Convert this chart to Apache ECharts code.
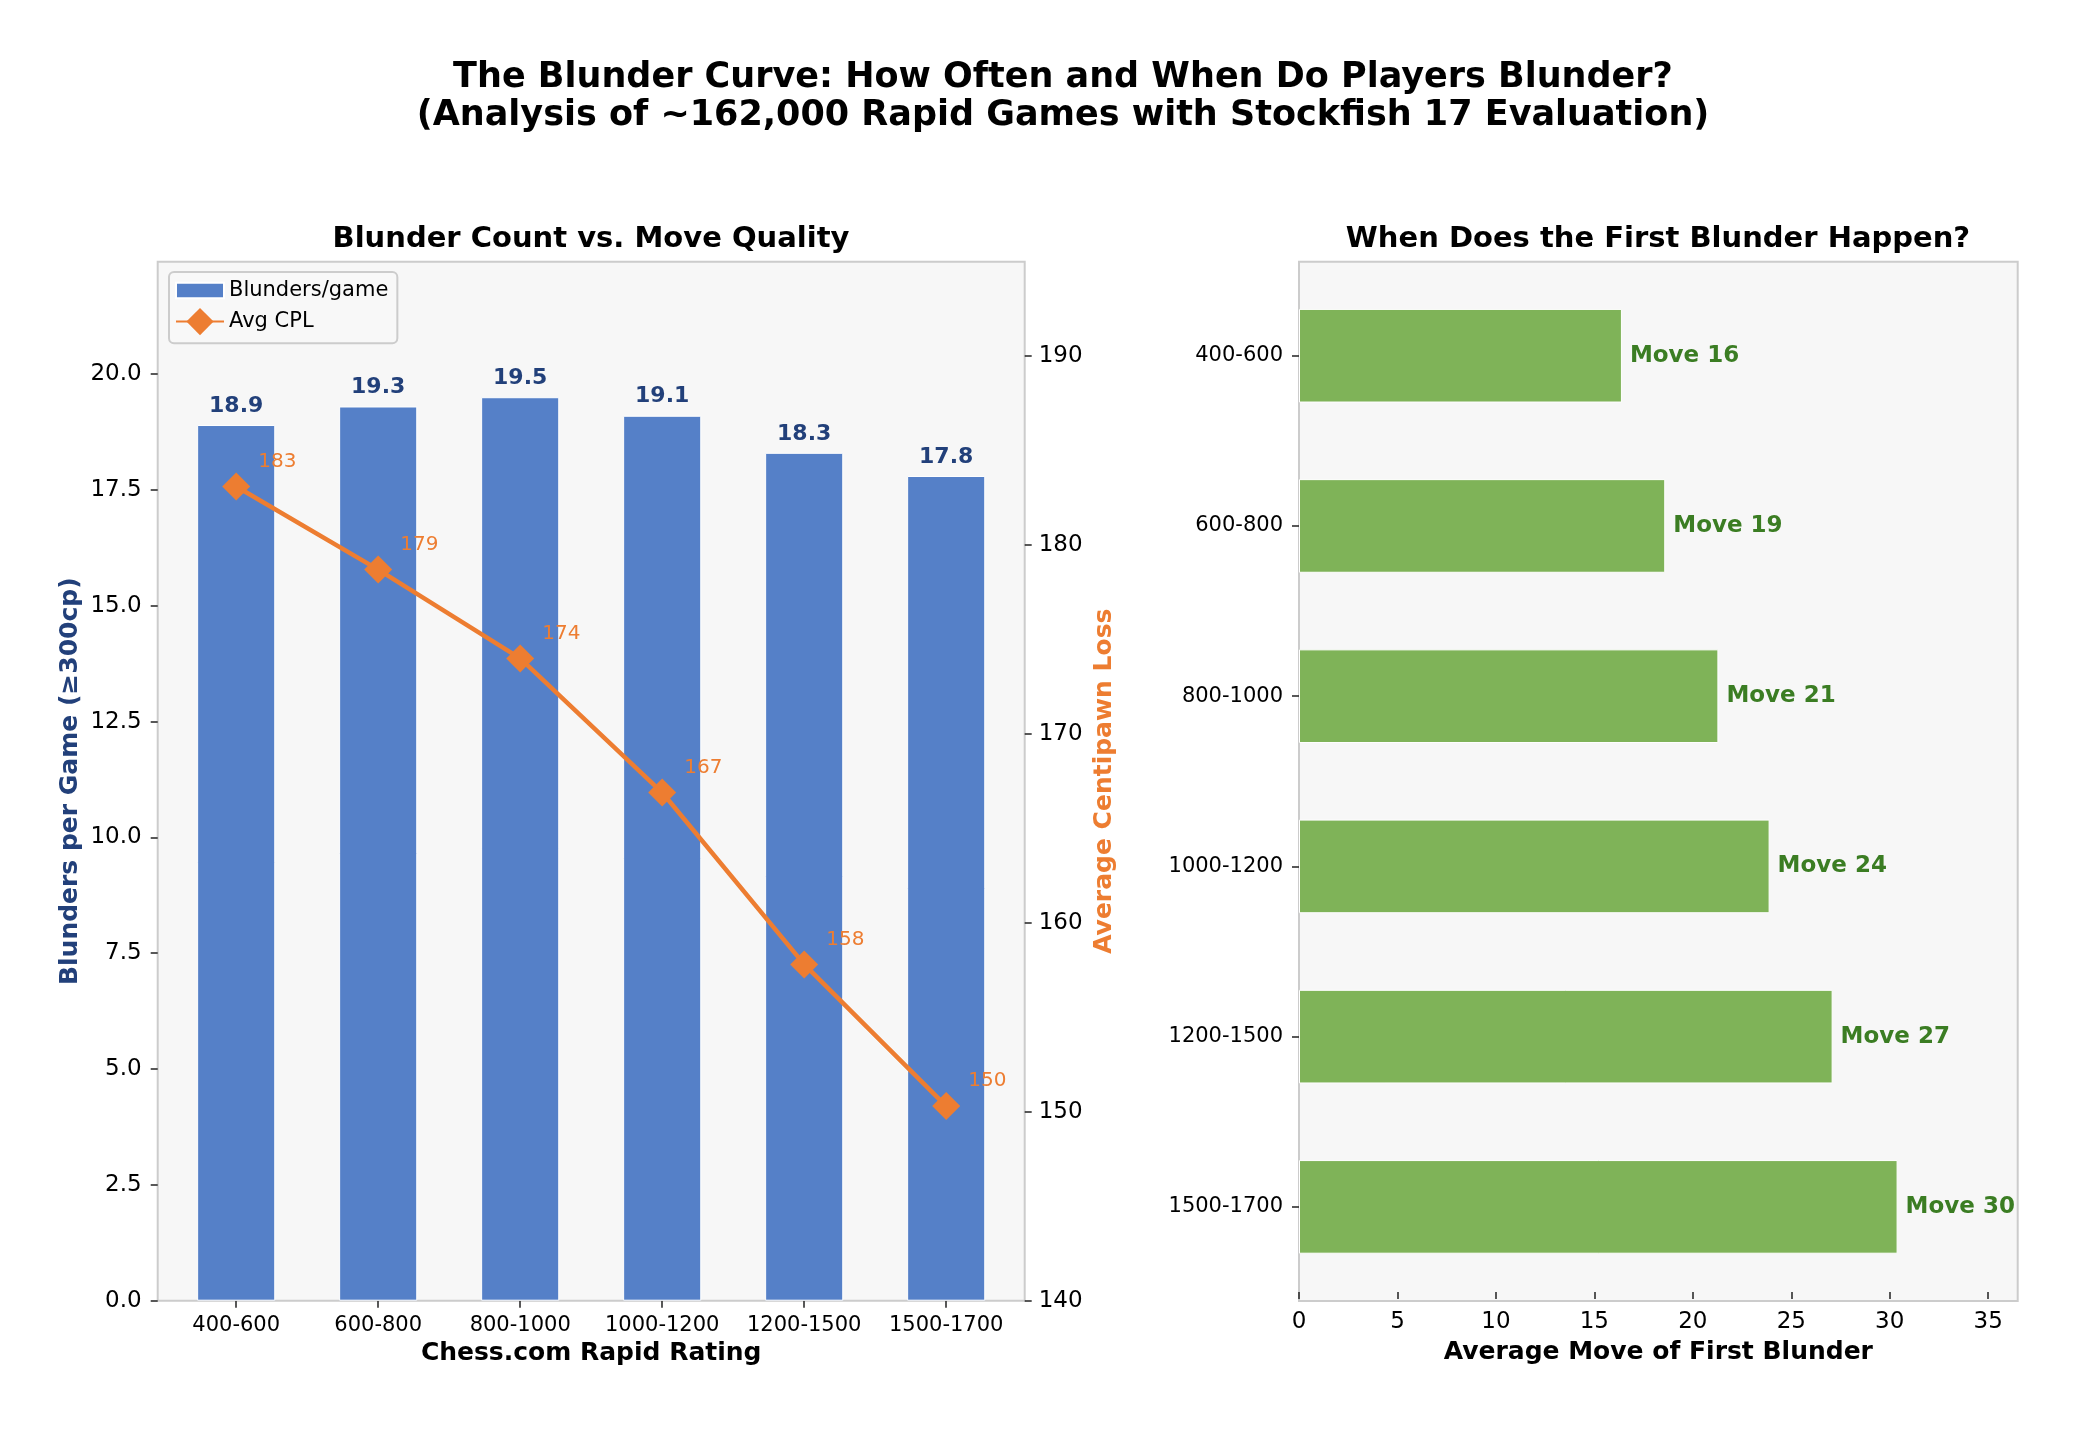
<!DOCTYPE html>
<html>
<head>
<meta charset="utf-8">
<script src="https://cdn.jsdelivr.net/npm/echarts@6/dist/echarts.min.js"></script>
<style>
  html, body { margin: 0; padding: 0; background: #fff; }
  #main { width: 2078px; height: 1431px; }
</style>
</head>
<body>
<div id="main"></div>
<script>
// data
var ratings = ['400-600', '600-800', '800-1000', '1000-1200', '1200-1500', '1500-1700'];
var blundersPerGame = [18.9, 19.3, 19.5, 19.1, 18.3, 17.8];
var avgCpl = [183.1, 178.7, 174.0, 166.9, 157.8, 150.3];
var firstBlunderMove = [16.4, 18.6, 21.3, 23.9, 27.1, 30.4];
var leftTicks = [0, 2.5, 5, 7.5, 10, 12.5, 15, 17.5, 20];
var cplTicks = [140, 150, 160, 170, 180, 190];
var moveTicks = [0, 5, 10, 15, 20, 25, 30, 35];

var FONT = 'DejaVu Sans';
var NAVY = '#22407a';
var ORANGE = '#ED7D31';
var GREEN_TXT = '#3b7d23';

var chart = echarts.init(document.getElementById('main'));

function tickStyle() {
    return { show: true, interval: 0, length: 7, lineStyle: { color: '#222', width: 1.5 } };
}

var option = {
    backgroundColor: '#fff',
    textStyle: { fontFamily: FONT },
    animation: false,
    title: [
        {
            text: 'The Blunder Curve: How Often and When Do Players Blunder?\n(Analysis of ~162,000 Rapid Games with Stockfish 17 Evaluation)',
            left: 1063, top: 59, textAlign: 'center', padding: 0,
            textStyle: { fontSize: 35, fontWeight: 'bold', color: '#000', lineHeight: 38, fontFamily: FONT }
        },
        {
            text: 'Blunder Count vs. Move Quality',
            left: 591, top: 225, textAlign: 'center', padding: 0,
            textStyle: { fontSize: 29, fontWeight: 'bold', color: '#000', fontFamily: FONT }
        },
        {
            text: 'When Does the First Blunder Happen?',
            left: 1658, top: 225, textAlign: 'center', padding: 0,
            textStyle: { fontSize: 29, fontWeight: 'bold', color: '#000', fontFamily: FONT }
        }
    ],
    legend: {
        data: [
            { name: 'Blunders/game', icon: 'path://M0,0H40V13H0Z' },
            { name: 'Avg CPL' }
        ],
        orient: 'vertical',
        left: 169, top: 272,
        itemWidth: 48, itemHeight: 34, itemGap: 7,
        padding: [8, 9, 8, 6],
        backgroundColor: 'rgba(247,247,247,0.9)',
        borderColor: '#cccccc', borderWidth: 2, borderRadius: 5,
        textStyle: { fontSize: 21, color: '#000', fontFamily: FONT }
    },
    grid: [
        // plot backgrounds (matplotlib-style frame)
        { left: 157.7, top: 261.7, width: 867, height: 1039, show: true,
          backgroundColor: '#f7f7f7', borderColor: '#cccccc', borderWidth: 2 },
        { left: 165.2, top: 261.7, width: 852, height: 1039 },
        { left: 1299, top: 261.7, width: 718.7, height: 1039.3, show: true,
          backgroundColor: '#f7f7f7', borderColor: '#cccccc', borderWidth: 2 },
        { left: 1299, top: 270.6, width: 718.7, height: 1021.4 }
    ],
    xAxis: [
        { gridIndex: 0, type: 'value', show: false, min: 0, max: 1 },
        {
            gridIndex: 1, type: 'category', data: ratings,
            axisLine: { show: false },
            axisTick: Object.assign(tickStyle(), { alignWithLabel: true }),
            axisLabel: { interval: 0, fontSize: 21, color: '#000', margin: 14, fontFamily: FONT },
            name: 'Chess.com Rapid Rating', nameLocation: 'middle', nameGap: 39,
            nameTextStyle: { fontSize: 25, fontWeight: 'bold', color: '#000', fontFamily: FONT }
        },
        { gridIndex: 2, type: 'value', show: false, min: 0, max: 1 },
        {
            gridIndex: 3, type: 'value', min: 0, max: 36.5,
            axisLine: { show: false },
            axisTick: Object.assign(tickStyle(), { customValues: moveTicks }),
            axisLabel: { fontSize: 23, color: '#000', margin: 19, customValues: moveTicks, fontFamily: FONT },
            splitLine: { show: false },
            name: 'Average Move of First Blunder', nameLocation: 'middle', nameGap: 48,
            nameTextStyle: { fontSize: 25, fontWeight: 'bold', color: '#000', fontFamily: FONT }
        }
    ],
    yAxis: [
        { gridIndex: 0, type: 'value', show: false, min: 0, max: 1 },
        {
            gridIndex: 1, type: 'value', min: 0, max: 22.425, offset: 7.5,
            axisLine: { show: false },
            axisTick: Object.assign(tickStyle(), { customValues: leftTicks }),
            axisLabel: {
                fontSize: 23, color: '#000', margin: 16, customValues: leftTicks, fontFamily: FONT,
                formatter: function (v) { return v.toFixed(1); }
            },
            splitLine: { show: false },
            name: 'Blunders per Game (≥300cp)', nameLocation: 'middle', nameGap: 75,
            nameTextStyle: { fontSize: 25, fontWeight: 'bold', color: NAVY, fontFamily: FONT }
        },
        {
            gridIndex: 1, type: 'value', position: 'right', min: 140, max: 195, offset: 7.5,
            axisLine: { show: false },
            axisTick: Object.assign(tickStyle(), { customValues: cplTicks }),
            axisLabel: { fontSize: 23, color: '#000', margin: 14, customValues: cplTicks, fontFamily: FONT },
            splitLine: { show: false },
            name: 'Average Centipawn Loss', nameLocation: 'middle', nameGap: 67,
            nameTextStyle: { fontSize: 25, fontWeight: 'bold', color: ORANGE, fontFamily: FONT }
        },
        { gridIndex: 2, type: 'value', show: false, min: 0, max: 1 },
        {
            gridIndex: 3, type: 'category', data: ratings, inverse: true,
            axisLine: { show: false },
            axisTick: Object.assign(tickStyle(), { alignWithLabel: true }),
            axisLabel: { interval: 0, fontSize: 21, color: '#000', margin: 16, fontFamily: FONT }
        }
    ],
    series: [
        {
            name: 'Blunders/game', type: 'bar', xAxisIndex: 1, yAxisIndex: 1,
            data: blundersPerGame, barWidth: '55%',
            itemStyle: { color: '#5580c8', borderColor: '#ffffff', borderWidth: 1 },
            label: {
                show: true, position: 'top', distance: 8,
                fontSize: 22, fontWeight: 'bold', color: NAVY, fontFamily: FONT,
                formatter: function (p) { return p.value.toFixed(1); }
            },
            z: 2
        },
        {
            name: 'Avg CPL', type: 'line', xAxisIndex: 1, yAxisIndex: 2,
            data: avgCpl,
            symbol: 'diamond', symbolSize: 28,
            lineStyle: { color: ORANGE, width: 4.5 },
            itemStyle: { color: ORANGE },
            label: {
                show: true, position: 'right', distance: 0, offset: [8, -25],
                fontSize: 20, color: ORANGE, fontFamily: FONT,
                formatter: function (p) { return Math.round(p.value); }
            },
            z: 3
        },
        {
            name: 'First blunder', type: 'bar', xAxisIndex: 3, yAxisIndex: 4,
            data: firstBlunderMove, barWidth: '55%',
            itemStyle: { color: '#7fb358', borderColor: '#ffffff', borderWidth: 1 },
            label: {
                show: true, position: 'right', distance: 8,
                fontSize: 23, fontWeight: 'bold', color: GREEN_TXT, fontFamily: FONT,
                formatter: function (p) { return 'Move ' + Math.round(p.value); }
            }
        }
    ]
};

chart.setOption(option);
</script>
</body>
</html>
